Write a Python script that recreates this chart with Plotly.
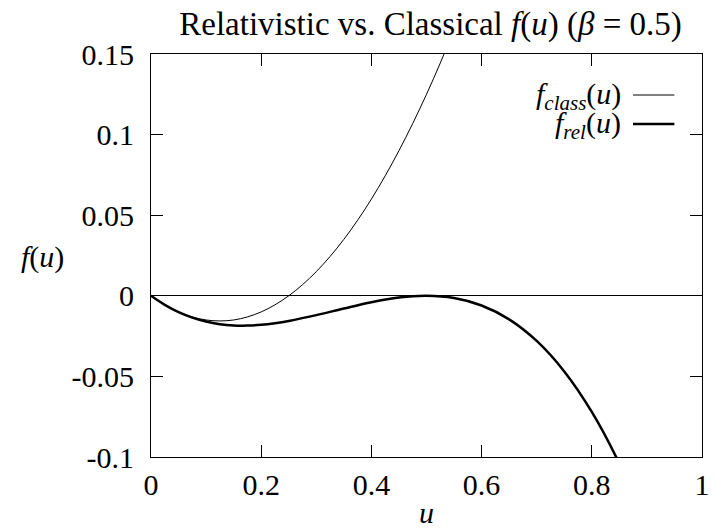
import plotly.graph_objects as go

# Data
u_class = [0.0, 0.025, 0.05, 0.075, 0.1, 0.125, 0.15, 0.175, 0.2, 0.225, 0.25, 0.275, 0.3,
           0.325, 0.35, 0.375, 0.4, 0.425, 0.45, 0.475, 0.5, 0.525, 0.55]
f_class = [0.0, -0.0056, -0.0100, -0.0131, -0.0150, -0.0156, -0.0150, -0.0131, -0.0100, -0.0056,
           0.0000, 0.0069, 0.0150, 0.0244, 0.0350, 0.0469, 0.0600, 0.0744, 0.0900, 0.1069,
           0.1250, 0.1444, 0.1650]

u_rel = [0.0, 0.025, 0.05, 0.075, 0.1, 0.125, 0.15, 0.175, 0.2, 0.225, 0.25, 0.3, 0.35, 0.4,
         0.45, 0.5, 0.55, 0.6, 0.65, 0.7, 0.75, 0.8, 0.85, 0.9]
f_rel = [0.0, -0.0056, -0.0101, -0.0135, -0.0160, -0.0176, -0.0184, -0.0185, -0.0180, -0.0170,
         -0.0156, -0.0120, -0.0079, -0.0040, -0.0011, 0.0000, -0.0014, -0.0060, -0.0146,
         -0.0280, -0.0469, -0.0720, -0.1041, -0.1440]

x_ticks = [0, 0.2, 0.4, 0.6, 0.8, 1]
x_tick_text = ["0", "0.2", "0.4", "0.6", "0.8", "1"]
y_ticks = [-0.1, -0.05, 0, 0.05, 0.1, 0.15]
y_tick_text = ["-0.1", "-0.05", "0", "0.05", "0.1", "0.15"]

FONT = "Liberation Serif"
FS = 30

fig = go.Figure()
fig.add_trace(go.Scatter(x=u_class, y=f_class, mode="lines", line=dict(color="black", width=1, shape="spline"),
                         showlegend=False))
fig.add_trace(go.Scatter(x=u_rel, y=f_rel, mode="lines", line=dict(color="black", width=2.5, shape="spline"),
                         showlegend=False))

axis_common = dict(showline=True, linecolor="black", linewidth=1, mirror="ticks", ticks="inside",
                   ticklen=12, tickcolor="black", tickwidth=1, showgrid=False,
                   tickfont=dict(family=FONT, size=FS, color="black"))

fig.update_xaxes(range=[0, 1], tickvals=x_ticks, ticktext=x_tick_text, zeroline=False,
                 ticklabelstandoff=1, **axis_common)
fig.update_yaxes(range=[-0.1, 0.15], tickvals=y_ticks, ticktext=y_tick_text, zeroline=True,
                 zerolinecolor="black", zerolinewidth=1, ticklabelstandoff=10, **axis_common)

LEG_R = (630 - 151) / 559
annotations = [
    dict(text="<i>u</i>", xref="paper", yref="paper", x=0.5, y=(457 - 512) / 403, xanchor="center",
         yanchor="middle", showarrow=False, font=dict(family=FONT, size=FS, color="black")),
    dict(text="<i>f</i>(<i>u</i>)", xref="paper", yref="paper", x=(41 - 151) / 559, y=(457 - 257) / 403,
         xanchor="center", yanchor="middle", showarrow=False, font=dict(family=FONT, size=FS, color="black")),
    dict(text="<i>f</i><sub><i>class</i></sub>(<i>u</i>)", xref="paper", yref="paper", x=LEG_R,
         y=(457 - 96) / 403, xanchor="right", yanchor="middle", showarrow=False,
         font=dict(family=FONT, size=FS, color="black")),
    dict(text="<i>f</i><sub><i>rel</i></sub>(<i>u</i>)", xref="paper", yref="paper", x=LEG_R,
         y=(457 - 125) / 403, xanchor="right", yanchor="middle", showarrow=False,
         font=dict(family=FONT, size=FS, color="black")),
]
shapes = [
    dict(type="line", xref="paper", yref="paper", x0=(640 - 151) / 559, x1=(682 - 151) / 559,
         y0=(457 - 95) / 403, y1=(457 - 95) / 403, line=dict(color="black", width=1)),
    dict(type="line", xref="paper", yref="paper", x0=(640 - 151) / 559, x1=(682 - 151) / 559,
         y0=(457 - 124) / 403, y1=(457 - 124) / 403, line=dict(color="black", width=2.5)),
]

fig.update_layout(
    width=718, height=528,
    font=dict(family=FONT, size=FS, color="black"),
    margin=dict(l=151, r=8, t=54, b=71),
    paper_bgcolor="white", plot_bgcolor="white",
    title=dict(text="Relativistic vs. Classical <i>f</i>(<i>u</i>) (<i>β</i> = 0.5)",
               x=(151 + 710) / 2 / 718, xanchor="center", y=1 - 23 / 528, yanchor="middle",
               font=dict(family=FONT, size=33, color="black")),
    annotations=annotations, shapes=shapes, showlegend=False,
)

fig.write_html("out.html")
